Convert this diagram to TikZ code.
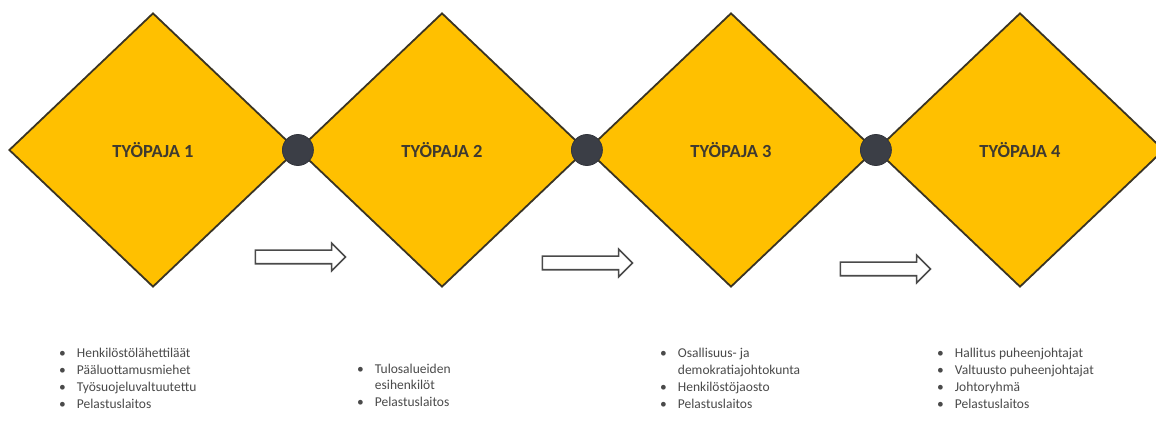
\documentclass[tikz,border=0pt]{standalone}
\usepackage{fontspec}
\setmainfont{Carlito}
\usetikzlibrary{shapes.geometric,shapes.arrows}
\definecolor{gold}{HTML}{FFC000}
\definecolor{edgec}{HTML}{3A3424}
\definecolor{dotc}{HTML}{3B3E46}
\definecolor{titlec}{HTML}{3F3A30}
\definecolor{bodyc}{HTML}{4A4A4A}
\begin{document}
\begin{tikzpicture}[x=1pt,y=-1pt,
  ws/.style={diamond, draw=edgec, line width=1.8pt, fill=gold, minimum width=288pt, minimum height=274pt, inner sep=0pt, font=\fontsize{18.5}{22}\selectfont\bfseries, text=titlec},
  joint/.style={circle, fill=dotc, draw=dotc!85!black, line width=0.8pt, minimum size=31pt, inner sep=0pt},
  flow/.style={single arrow, draw=bodyc, line width=1.6pt, fill=white, minimum height=90pt, single arrow head extend=7pt, inner xsep=0pt, inner ysep=6pt},
  lst/.style={anchor=north west, inner sep=0pt, align=left, text=bodyc, font=\fontsize{13.5}{17}\selectfont}]
\useasboundingbox (0,0) rectangle (1156,430);
\fill[white] (0,0) rectangle (1156,430);
\node[ws] (w1) at (153,150) {TYÖPAJA 1};
\node[ws] (w2) at (442,150) {TYÖPAJA 2};
\node[ws] (w3) at (731,150) {TYÖPAJA 3};
\node[ws] (w4) at (1020,150) {TYÖPAJA 4};
\node[joint] (j1) at (w1.east) {};
\node[joint] (j2) at (w2.east) {};
\node[joint] (j3) at (w3.east) {};
\node[flow] (a1) at (297,257) {};
\node[flow] (a2) at (584,263) {};
\node[flow] (a3) at (882,269) {};
\node[lst] (l1) at (59,345) {\begin{tabular}{@{}l@{\hspace{11pt}}l@{}}
\textbullet & Henkilöstölähettiläät\\
\textbullet & Pääluottamusmiehet\\
\textbullet & Työsuojeluvaltuutettu\\
\textbullet & Pelastuslaitos
\end{tabular}};
\node[lst] (l2) at (357,361) {\begin{tabular}{@{}l@{\hspace{11pt}}l@{}}
\textbullet & Tulosalueiden\\[-1pt]
 & esihenkilöt\\
\textbullet & Pelastuslaitos
\end{tabular}};
\node[lst] (l3) at (660,345) {\begin{tabular}{@{}l@{\hspace{11pt}}l@{}}
\textbullet & Osallisuus- ja\\
 & demokratiajohtokunta\\
\textbullet & Henkilöstöjaosto\\
\textbullet & Pelastuslaitos
\end{tabular}};
\node[lst] (l4) at (937,345) {\begin{tabular}{@{}l@{\hspace{11pt}}l@{}}
\textbullet & Hallitus puheenjohtajat\\
\textbullet & Valtuusto puheenjohtajat\\
\textbullet & Johtoryhmä\\
\textbullet & Pelastuslaitos
\end{tabular}};
\end{tikzpicture}
\end{document}
